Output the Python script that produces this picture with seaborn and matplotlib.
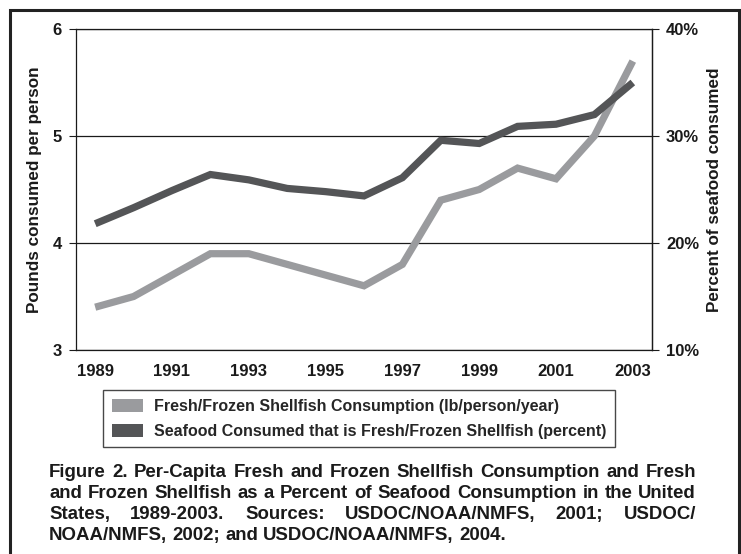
import matplotlib
matplotlib.use("Agg")
import numpy as np
import pandas as pd
import seaborn as sns
import matplotlib.pyplot as plt
from matplotlib.patches import Patch, Rectangle
from matplotlib.ticker import FixedLocator, NullFormatter
from matplotlib import font_manager as fm
from matplotlib.font_manager import FontProperties

# ---------------- data ----------------
years = list(range(1989, 2004))
lbs_per_person = [3.4, 3.5, 3.7, 3.9, 3.9, 3.8, 3.7, 3.6, 3.8, 4.4, 4.5, 4.7, 4.6, 5.0, 5.7]
pct_of_seafood = [21.8, 23.3, 24.9, 26.4, 25.9, 25.1, 24.8, 24.4, 26.1, 29.6, 29.3, 30.9, 31.1, 32.0, 35.0]
tick_years = years[::2]
left_ticks = [3, 4, 5, 6]
right_ticks = [10, 20, 30, 40]
series_names = ["Fresh/Frozen Shellfish Consumption (lb/person/year)",
                "Seafood Consumed that is Fresh/Frozen Shellfish (percent)"]
left_label = "Pounds consumed per person"
right_label = "Percent of seafood consumed"
caption_lines = [
    "Figure 2. Per-Capita Fresh and Frozen Shellfish Consumption and Fresh",
    "and Frozen Shellfish as a Percent of Seafood Consumption in the United",
    "States, 1989-2003. Sources: USDOC/NOAA/NMFS, 2001; USDOC/",
    "NOAA/NMFS, 2002; and USDOC/NOAA/NMFS, 2004.",
]

# ---------------- style ----------------
W, H = 741, 554
sns.set_style("white")
plt.rcParams["font.family"] = ["Liberation Sans", "DejaVu Sans"]
plt.rcParams["font.weight"] = "bold"

def has_font(name):
    try:
        fm.findfont(FontProperties(family=name, weight="bold"), fallback_to_default=False)
        return True
    except Exception:
        return False

narrow = "Liberation Sans Narrow" if has_font("Liberation Sans Narrow") else "Liberation Sans"

LIGHT = "#9a9b9e"
DARK = "#545557"
AXC = "#1a1a1a"
TICK_FS = 12

fig = plt.figure(figsize=(W / 100, H / 100), dpi=100)
fig.patch.set_facecolor("white")
renderer = fig.canvas.get_renderer()

L, R, T, B = 76, 652, 29, 350
ax = fig.add_axes([L / W, 1 - B / H, (R - L) / W, (B - T) / H])
ax2 = ax.twinx()

df = pd.DataFrame({"year": years, "lbs": lbs_per_person, "pct": pct_of_seafood})
df["pos"] = df["year"] - years[0]

sns.lineplot(data=df, x="pos", y="lbs", ax=ax, color=LIGHT, linewidth=5.2,
             solid_capstyle="butt", solid_joinstyle="miter", zorder=3)
sns.lineplot(data=df, x="pos", y="pct", ax=ax2, color=DARK, linewidth=5.2,
             solid_capstyle="butt", solid_joinstyle="miter", zorder=3)

ax.set_xlim(-0.5, len(years) - 0.5)
ax.set_ylim(left_ticks[0], left_ticks[-1])
ax2.set_ylim(right_ticks[0], right_ticks[-1])

# x axis: labels at category centers, tick marks at boundaries
centers = [y - years[0] for y in tick_years]
ax.set_xticks(centers)
ax.set_xticklabels([str(y) for y in tick_years])
ax.xaxis.set_minor_locator(FixedLocator([c - 0.5 for c in centers]))
ax.xaxis.set_minor_formatter(NullFormatter())
ax.tick_params(axis="x", which="major", length=0, pad=10, labelsize=TICK_FS, colors=AXC)
ax.tick_params(axis="x", which="minor", length=5, width=0.8, direction="out", color=AXC)

ax.set_yticks(left_ticks)
ax.set_yticklabels([str(v) for v in left_ticks])
ax.tick_params(axis="y", length=5, width=0.8, direction="out", pad=5, labelsize=TICK_FS, colors=AXC)
ax2.set_yticks(right_ticks)
ax2.set_yticklabels([f"{v}%" for v in right_ticks])
ax2.tick_params(axis="y", length=5, width=0.8, direction="out", pad=5, labelsize=TICK_FS, colors=AXC)

for a in (ax, ax2):
    a.set_xlabel("")
    a.set_ylabel("")
    for s in a.spines.values():
        s.set_color(AXC)
        s.set_linewidth(0.9)
ax2.spines["top"].set_visible(False)
ax2.spines["left"].set_visible(False)
ax2.spines["bottom"].set_visible(False)

ax.yaxis.grid(True, color=AXC, linewidth=0.9)
ax.xaxis.grid(False)
ax.set_axisbelow(True)

ax.set_ylabel(left_label, fontsize=12.3, fontweight="bold", color=AXC, labelpad=8)
ax2.set_ylabel(right_label, fontsize=12.3, fontweight="bold", color=AXC, labelpad=6)
for lab in ax.get_yticklabels() + ax2.get_yticklabels() + ax.get_xticklabels():
    lab.set_fontweight("bold")

# legend
handles = [Patch(facecolor=LIGHT, edgecolor="none"), Patch(facecolor=DARK, edgecolor="none")]
leg = fig.legend(handles, series_names, loc="upper left",
                 bbox_to_anchor=(103 / W, 1 - 390 / H),
                 frameon=True, fancybox=False, borderpad=0.55,
                 handlelength=1.95, handleheight=0.85, handletextpad=0.7,
                 labelspacing=0.62, borderaxespad=0,
                 prop=FontProperties(family=[narrow, "DejaVu Sans"], weight="bold", size=11.5))
leg.get_frame().set_edgecolor(AXC)
leg.get_frame().set_linewidth(1.0)

# outer frame
fig.patches.append(Rectangle((10 / W, -0.05), (739 - 10) / W, 1.05 - 10 / H,
                             transform=fig.transFigure, fill=False,
                             edgecolor="#222222", linewidth=2.2))

# caption, justified; size fitted so the first line fills the column
x0, x1 = 49, 696
probe = fig.text(0, 0, caption_lines[0], fontsize=12, fontweight="bold")
w_probe = probe.get_window_extent(renderer).width
probe.remove()
cap_fs = 12 * (x1 - x0) / w_probe * 0.985
baselines = [477, 498, 519, 540]
for i, (line, yb) in enumerate(zip(caption_lines, baselines)):
    words = line.split(" ")
    txts = [fig.text(0, 1 - yb / H, w, fontsize=cap_fs, fontweight="bold",
                     color=AXC, va="baseline", ha="left") for w in words]
    widths = [t.get_window_extent(renderer).width for t in txts]
    if i < len(caption_lines) - 1 and len(words) > 1:
        gap = (x1 - x0 - sum(widths)) / (len(words) - 1)
    else:
        gap = 0.278 * cap_fs * 100 / 72
    x = x0
    for t, w in zip(txts, widths):
        t.set_x(x / W)
        x += w + gap

fig.savefig("out.png", dpi=100, facecolor="white")
